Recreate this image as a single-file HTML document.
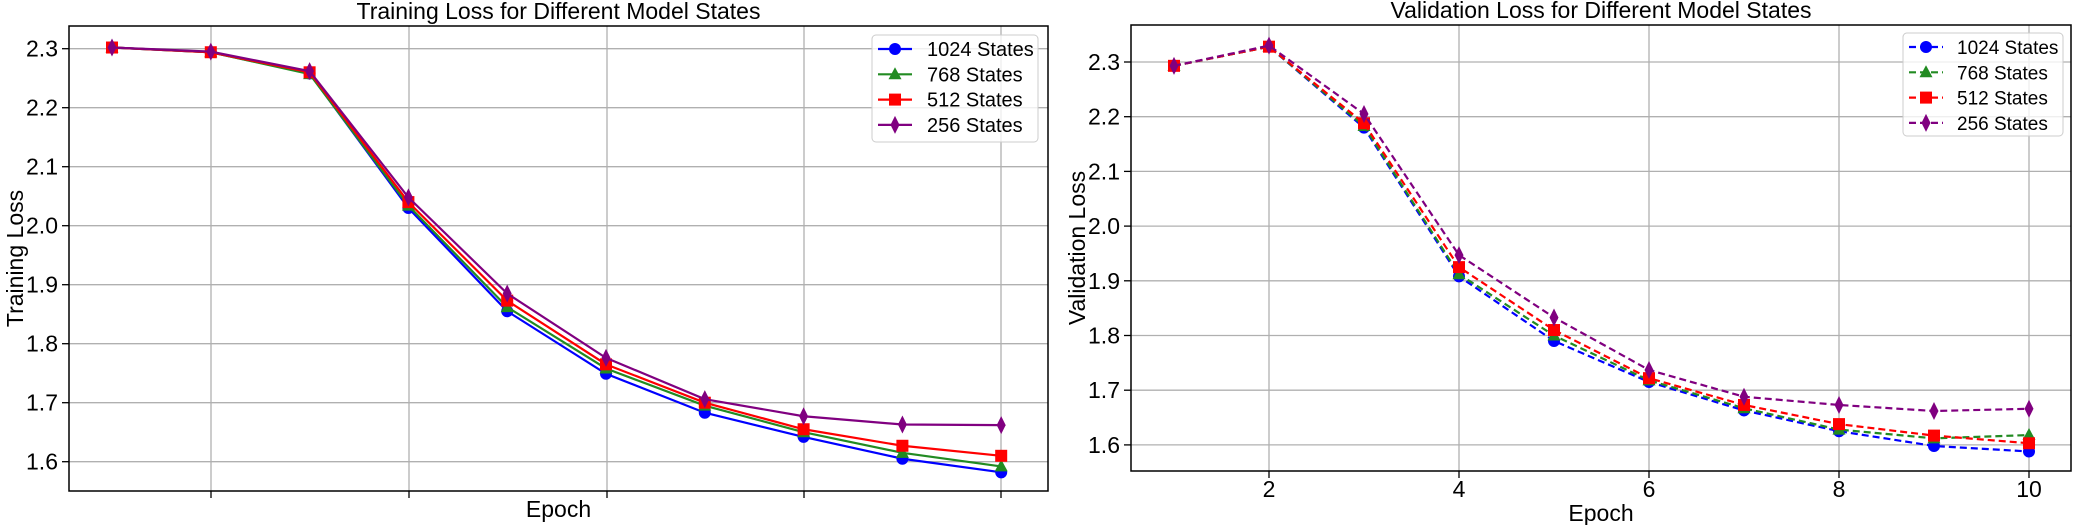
<!DOCTYPE html><html><head><meta charset="utf-8"><style>body{margin:0;background:#fff}svg{display:block;font-family:"Liberation Sans",sans-serif}</style></head><body>
<svg id="s" width="2075" height="525" xmlns="http://www.w3.org/2000/svg"></svg>
<script>
const S=document.getElementById('s');let h='';
const cols=['#0000ff','#228b22','#ff0000','#800080'],names=['1024 States','768 States','512 States','256 States'];
function mk(t,x,y,c){if(t==0)return `<circle cx="${x}" cy="${y}" r="6" fill="${c}"/>`;
if(t==1)return `<polygon points="${x},${y-7} ${x+6.5},${y+5} ${x-6.5},${y+5}" fill="${c}"/>`;
if(t==2)return `<rect x="${x-6}" y="${y-6}" width="12" height="12" fill="${c}"/>`;
return `<polygon points="${x},${y-9} ${x+4.5},${y} ${x},${y+9} ${x-4.5},${y}" fill="${c}"/>`;}
function plot(o){const{L,R,T,B,x0,dx,y23,dy,data,dash,grids,xt,title,yl,leg,ey}=o;
h+=`<text x="${(L+R)/2}" y="${T-7}" font-size="23" text-anchor="middle">${title}</text>`;
for(const g of grids)h+=`<line x1="${g}" x2="${g}" y1="${T}" y2="${B}" stroke="#b0b0b0" stroke-width="1.3"/><line x1="${g}" x2="${g}" y1="${B}" y2="${B+7}" stroke="#000" stroke-width="1.3"/>`;
for(let i=0;i<8;i++){const v=2.3-i*0.1,y=y23+i*dy;h+=`<line x1="${L}" x2="${R}" y1="${y}" y2="${y}" stroke="#b0b0b0" stroke-width="1.3"/><line x1="${L-7}" x2="${L}" y1="${y}" y2="${y}" stroke="#000" stroke-width="1.3"/><text x="${L-11}" y="${y+8}" font-size="23" text-anchor="end">${v.toFixed(1)}</text>`;}
if(xt)xt.forEach((t,i)=>h+=`<text x="${grids[i]}" y="${B+26}" font-size="23" text-anchor="middle">${t}</text>`);
h+=`<text x="${(L+R)/2}" y="${ey}" font-size="23" text-anchor="middle">Epoch</text>`;
h+=`<text transform="translate(${L-46},${(T+B)/2}) rotate(-90)" font-size="23" text-anchor="middle">${yl}</text>`;
data.forEach((d,k)=>{const p=d.map((v,i)=>[x0+i*dx,y23+(2.3-v)*dy*10]);
h+=`<polyline points="${p.map(q=>q.join(',')).join(' ')}" fill="none" stroke="${cols[k]}" stroke-width="2.2" ${dash?'stroke-dasharray="7,4"':''}/>`;
p.forEach(q=>h+=mk(k,q[0],q[1],cols[k]));});
h+=`<rect x="${L}" y="${T}" width="${R-L}" height="${B-T}" fill="none" stroke="#000" stroke-width="1.5"/>`;
const[lx,ly,lw,lh,tx,fs]=leg;h+=`<rect x="${lx}" y="${ly}" width="${lw}" height="${lh}" rx="4" fill="#fff" fill-opacity="0.8" stroke="#ccc"/>`;
names.forEach((n,k)=>{const y=ly+14+k*25.3;h+=`<line x1="${lx+6}" x2="${lx+40}" y1="${y}" y2="${y}" stroke="${cols[k]}" stroke-width="2.2" ${dash?'stroke-dasharray="7,4"':''}/>`+mk(k,lx+23,y,cols[k])+`<text x="${lx+tx}" y="${y+7}" font-size="${fs}">${n}</text>`;});}
plot({L:69,R:1048,T:26,B:491,ey:517,x0:112,dx:98.8,y23:48.7,dy:59,dash:false,grids:[211,409,607,804,1001],xt:null,title:'Training Loss for Different Model States',yl:'Training Loss',leg:[872,35,166,107,55,20],
data:[[2.302,2.294,2.258,2.030,1.855,1.749,1.683,1.642,1.605,1.582],[2.302,2.294,2.257,2.034,1.862,1.758,1.695,1.650,1.615,1.592],[2.302,2.294,2.260,2.040,1.873,1.765,1.700,1.655,1.627,1.610],[2.302,2.295,2.262,2.048,1.885,1.776,1.706,1.677,1.663,1.662]]});
plot({L:1131,R:2071,T:25,B:471,ey:521,x0:1174,dx:95,y23:62,dy:54.7,dash:true,grids:[1269,1459,1649,1839,2029],xt:['2','4','6','8','10'],title:'Validation Loss for Different Model States',yl:'Validation Loss',leg:[1903,33,160,103,54,19],
data:[[2.293,2.328,2.180,1.908,1.790,1.715,1.663,1.625,1.598,1.588],[2.293,2.328,2.183,1.912,1.800,1.718,1.667,1.628,1.612,1.618],[2.293,2.328,2.188,1.925,1.810,1.722,1.673,1.638,1.617,1.603],[2.293,2.330,2.205,1.947,1.833,1.737,1.688,1.673,1.662,1.666]]});
S.innerHTML=h;
</script></body></html>
